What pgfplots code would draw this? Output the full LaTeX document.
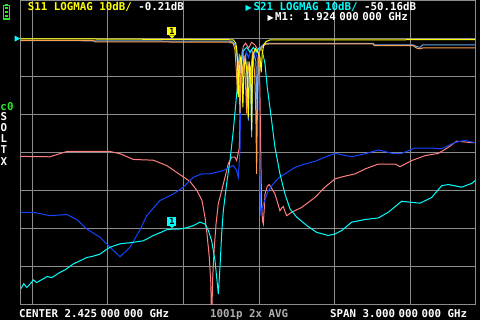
\documentclass[border=0pt]{standalone}
\usepackage{fontspec}
\usepackage{pgfplots}
\pgfplotsset{compat=1.18}
\newfontfamily\vna{DejaVu Sans Mono}
\newfontfamily\sym{DejaVu Sans}
\definecolor{vyel}{RGB}{255,255,0}
\definecolor{vcyan}{RGB}{0,255,255}
\definecolor{vlblue}{RGB}{100,165,235}
\definecolor{vorange}{RGB}{255,160,80}
\definecolor{vblue}{RGB}{20,70,255}
\definecolor{vpink}{RGB}{255,128,128}
\definecolor{vgrid}{RGB}{140,140,140}
\definecolor{vgreen}{RGB}{40,230,40}
\definecolor{vtxt}{RGB}{175,175,175}
\newcommand\gs{\hspace{3.5bp}}
\newcommand\vf{\vna\bfseries\fontsize{10.8bp}{12bp}\selectfont}
\begin{document}
\begin{tikzpicture}[x=1bp,y=1bp]
\fill[black] (0,0) rectangle (480,320);
\begin{axis}[
  at={(20.7bp,15.4bp)}, anchor=south west,
  scale only axis, width=454.3bp, height=304bp,
  xmin=0.925, xmax=3.925, ymin=-70, ymax=10,
  xtick={1,1.5,...,3.5}, ytick={-60,-50,...,0},
  xticklabels={}, yticklabels={},
  major tick length=0pt,
  grid=major, grid style={vgrid, line width=1bp},
  axis line style={vgrid, line width=1bp},
  clip mode=individual,
  every axis plot/.append style={line width=1bp, mark=none},
]
% pink
\addplot[vpink] coordinates {(0.925,-31.0) (1.118,-31.1) (1.231,-29.7) (1.515,-29.7) (1.581,-30.3) (1.669,-31.8) (1.801,-32.0) (1.889,-33.4) (1.977,-35.8) (2.043,-37.6) (2.089,-40.0) (2.122,-42.6) (2.142,-47.0) (2.155,-51.3) (2.170,-57.4) (2.180,-64) (2.184,-71) (2.188,-71) (2.193,-62.8) (2.202,-55.8) (2.215,-48.7) (2.230,-43.4) (2.252,-40.0) (2.274,-36.5) (2.296,-32.9) (2.318,-31.2) (2.340,-31.2) (2.351,-32.1) (2.369,-28.6) (2.378,-12.8) (2.384,-5) (2.395,-2) (2.41,-1.2) (2.43,-2.5) (2.45,-1.0) (2.47,-1.6) (2.49,-2.8) (2.500,-5) (2.505,-15) (2.512,-35) (2.516,-44) (2.522,-48.0) (2.527,-48.8) (2.533,-45) (2.538,-41) (2.553,-38.9) (2.565,-38.4) (2.571,-38.7) (2.604,-40.9) (2.637,-45.3) (2.650,-44.5) (2.659,-44.2) (2.670,-45.5) (2.682,-46.6) (2.715,-45.7) (2.781,-44.4) (2.868,-41.8) (2.934,-39.1) (3.001,-36.9) (3.055,-36.3) (3.133,-35.6) (3.199,-34.3) (3.287,-33.0) (3.397,-33.0) (3.430,-33.7) (3.507,-32.1) (3.595,-30.8) (3.683,-30.2) (3.749,-28.6) (3.804,-27.0) (3.881,-27.3) (3.925,-27.4)};
% dark blue
\addplot[vblue] coordinates {(0.925,-45.7) (1.008,-45.7) (1.118,-46.6) (1.229,-46.3) (1.295,-47.6) (1.361,-50.1) (1.449,-52.3) (1.515,-54.9) (1.581,-57.4) (1.647,-54.9) (1.713,-50.3) (1.757,-46.6) (1.845,-42.6) (1.933,-40.9) (1.999,-39.1) (2.065,-36.5) (2.120,-35.6) (2.175,-35.6) (2.263,-34.7) (2.329,-33.4) (2.351,-34.7) (2.362,-36.5) (2.373,-29.5) (2.378,-14) (2.385,-6) (2.395,-4) (2.405,-7) (2.415,-3.5) (2.43,-5) (2.445,-3) (2.46,-4) (2.475,-3.5) (2.49,-5.5) (2.498,-10) (2.503,-30) (2.508,-44) (2.511,-46.0) (2.516,-45.3) (2.527,-43.6) (2.560,-40.0) (2.593,-38.2) (2.633,-36.5) (2.670,-35.6) (2.736,-33.9) (2.802,-33.0) (2.868,-32.3) (2.934,-31.2) (3.001,-30.2) (3.050,-30.6) (3.111,-31.1) (3.199,-30.3) (3.287,-29.3) (3.379,-30.2) (3.441,-30.2) (3.529,-28.8) (3.639,-28.8) (3.705,-29.0) (3.793,-27.3) (3.859,-26.8) (3.925,-27.4)};
% cyan S21
\addplot[vcyan] coordinates {(0.925,-65.9) (0.945,-64.5) (0.965,-65.5) (0.986,-64.6) (1.01,-63.5) (1.03,-64.2) (1.074,-63.2) (1.10,-62.6) (1.13,-62.9) (1.185,-61.5) (1.22,-60.8) (1.272,-59.3) (1.31,-58.6) (1.361,-57.6) (1.40,-57.3) (1.449,-56.7) (1.48,-55.8) (1.515,-54.9) (1.581,-54.0) (1.669,-53.6) (1.735,-53.2) (1.801,-51.8) (1.85,-51.0) (1.889,-50.3) (1.924,-50.16) (1.977,-50.1) (2.02,-49.8) (2.065,-49.2) (2.109,-48.3) (2.142,-48.8) (2.164,-50.5) (2.186,-53.2) (2.208,-58.4) (2.219,-62.8) (2.230,-67.2) (2.241,-60.2) (2.252,-51.4) (2.263,-45.3) (2.285,-38.2) (2.307,-32.1) (2.329,-24.2) (2.351,-14.6) (2.373,-7.6) (2.395,-3.2) (2.417,-2.3) (2.44,-3.6) (2.461,-2.3) (2.483,-3.5) (2.50,-2.4) (2.52,-3.2) (2.538,-6.6) (2.553,-12.8) (2.582,-21.6) (2.604,-28.6) (2.637,-35.6) (2.670,-40.9) (2.703,-44.8) (2.748,-47.0) (2.814,-49.2) (2.880,-51.0) (2.956,-51.8) (3.001,-51.4) (3.045,-50.5) (3.111,-48.3) (3.199,-47.6) (3.287,-47.2) (3.352,-45.7) (3.441,-42.8) (3.507,-43.1) (3.562,-43.3) (3.639,-41.8) (3.705,-38.7) (3.749,-38.4) (3.837,-39.1) (3.903,-38.1) (3.925,-37.4)};
% light blue
\addplot[vlblue] coordinates {(0.925,-0.5) (1.20,-0.55) (1.60,-0.6) (2.0,-0.65) (2.32,-0.7) (2.340,-1.5) (2.352,-4) (2.360,-8) (2.368,-4) (2.378,-9) (2.388,-3.5) (2.400,-6) (2.410,-4.5) (2.422,-12) (2.428,-21.6) (2.434,-6) (2.442,-9) (2.450,-26) (2.456,-8) (2.465,-4) (2.478,-6) (2.487,-21.6) (2.494,-5) (2.505,-2.5) (2.520,-1.8) (2.540,-1.3) (2.571,-1.24) (3.252,-1.24) (3.26,-1.66) (3.516,-1.66) (3.540,-2.1) (3.562,-2.29) (3.58,-1.66) (3.925,-1.66)};
% orange
\addplot[vorange] coordinates {(0.925,-0.45) (1.40,-0.5) (1.42,-0.87) (2.0,-0.9) (2.30,-0.9) (2.329,-1.3) (2.340,-3) (2.350,-9) (2.356,-14.6) (2.362,-6) (2.368,-12) (2.373,-19.7) (2.380,-6) (2.390,-9) (2.400,-4.5) (2.410,-12) (2.417,-19.7) (2.425,-6) (2.440,-11) (2.455,-4) (2.470,-9) (2.478,-20) (2.483,-35.6) (2.488,-15) (2.495,-5) (2.505,-3) (2.520,-2.2) (2.540,-1.5) (2.571,-1.4) (3.252,-1.4) (3.26,-1.84) (3.516,-1.84) (3.540,-2.5) (3.562,-2.7) (3.58,-2.45) (3.925,-2.45)};
% yellow S11
\addplot[vyel] coordinates {(0.925,-0.1) (1.20,-0.1) (1.40,-0.1) (1.60,-0.15) (1.90,-0.2) (2.10,-0.25) (2.30,-0.3) (2.329,-0.35) (2.345,-1.2) (2.351,-2.5) (2.357,-6) (2.362,-15.4) (2.368,-8) (2.378,-4.9) (2.384,-5.5) (2.392,-18.1) (2.400,-7) (2.410,-5.8) (2.420,-9) (2.428,-20.7) (2.436,-7) (2.444,-8) (2.450,-24.2) (2.456,-6) (2.461,-4) (2.475,-2.6) (2.490,-3.5) (2.505,-4.9) (2.513,-8.9) (2.520,-4) (2.530,-1.6) (2.545,-0.8) (2.571,-0.35) (3.0,-0.35) (3.5,-0.3) (3.925,-0.3)};
% markers
\fill[vyel] ([xshift=-3bp,yshift=4bp]axis cs:1.924,-0.21) -- ([xshift=3bp,yshift=4bp]axis cs:1.924,-0.21) -- ([yshift=1bp]axis cs:1.924,-0.21) -- cycle;
\node[fill=vyel, text=black, inner sep=0pt, minimum width=9bp, minimum height=8bp, anchor=south, font=\vna\bfseries\fontsize{8.5bp}{9bp}\selectfont] at ([yshift=4bp]axis cs:1.924,-0.21) {1};
\fill[vcyan] ([xshift=-3bp,yshift=4bp]axis cs:1.924,-50.16) -- ([xshift=3bp,yshift=4bp]axis cs:1.924,-50.16) -- ([yshift=1bp]axis cs:1.924,-50.16) -- cycle;
\node[fill=vcyan, text=black, inner sep=0pt, minimum width=9bp, minimum height=9bp, anchor=south, font=\vna\bfseries\fontsize{8.5bp}{9bp}\selectfont] at ([yshift=3.5bp]axis cs:1.924,-50.16) {1};
\fill[vcyan] ([xshift=-6bp,yshift=3bp]axis cs:0.925,0) -- ([xshift=-6bp,yshift=-3bp]axis cs:0.925,0) -- ([xshift=-0.5bp]axis cs:0.925,0) -- cycle;
\end{axis}
% battery
\draw[vgreen, line width=1bp] (3,301) rectangle (9,314);
\fill[vgreen] (4.5,314) rectangle (7.5,316);
\fill[vgreen] (4.5,302.5) rectangle (7.5,305);
\fill[vgreen] (4.5,306.5) rectangle (7.5,309);
\fill[vgreen] (4.5,310.5) rectangle (7.5,312.8);
% header texts
\node[anchor=base west, inner sep=0pt, font=\vf] at (27.7,309.3) {\textcolor{vyel}{S11 LOGMAG 10dB/} \textcolor{white}{-0.21dB}};
\node[anchor=base west, inner sep=0pt, font=\sym\fontsize{8bp}{9bp}\selectfont, text=vcyan] at (245.5,310) {▶};
\node[anchor=base west, inner sep=0pt, font=\vf] at (253.3,309.3) {\textcolor{vcyan}{S21 LOGMAG 10dB/} \textcolor{white}{-50.16dB}};
\node[anchor=base west, inner sep=0pt, font=\sym\fontsize{8bp}{9bp}\selectfont, text=white] at (267.5,300) {▶};
\node[anchor=base west, inner sep=0pt, font=\vf, text=white] at (275,299.3) {M1: 1.924\gs000\gs000 GHz};
% left side
\node[anchor=base west, inner sep=0pt, font=\vf, text=vgreen] at (0.3,209.3) {c0};
\node[anchor=base west, inner sep=0pt, font=\vf, text=white] at (0.5,200) {S};
\node[anchor=base west, inner sep=0pt, font=\vf, text=white] at (0.5,188.7) {O};
\node[anchor=base west, inner sep=0pt, font=\vf, text=white] at (0.5,177.5) {L};
\node[anchor=base west, inner sep=0pt, font=\vf, text=white] at (0.5,166.2) {T};
\node[anchor=base west, inner sep=0pt, font=\vf, text=white] at (0.5,155) {X};
% footer
\node[anchor=base west, inner sep=0pt, font=\vf, text=white] at (19,2.7) {CENTER 2.425\gs000\gs000 GHz};
\node[anchor=base west, inner sep=0pt, font=\vf, text=vtxt] at (210,2.7) {1001p 2x AVG};
\node[anchor=base west, inner sep=0pt, font=\vf, text=white] at (330,2.7) {SPAN 3.000\gs000\gs000 GHz};
\pgfresetboundingbox
\useasboundingbox (0,0) rectangle (480,320);
\end{tikzpicture}
\end{document}
